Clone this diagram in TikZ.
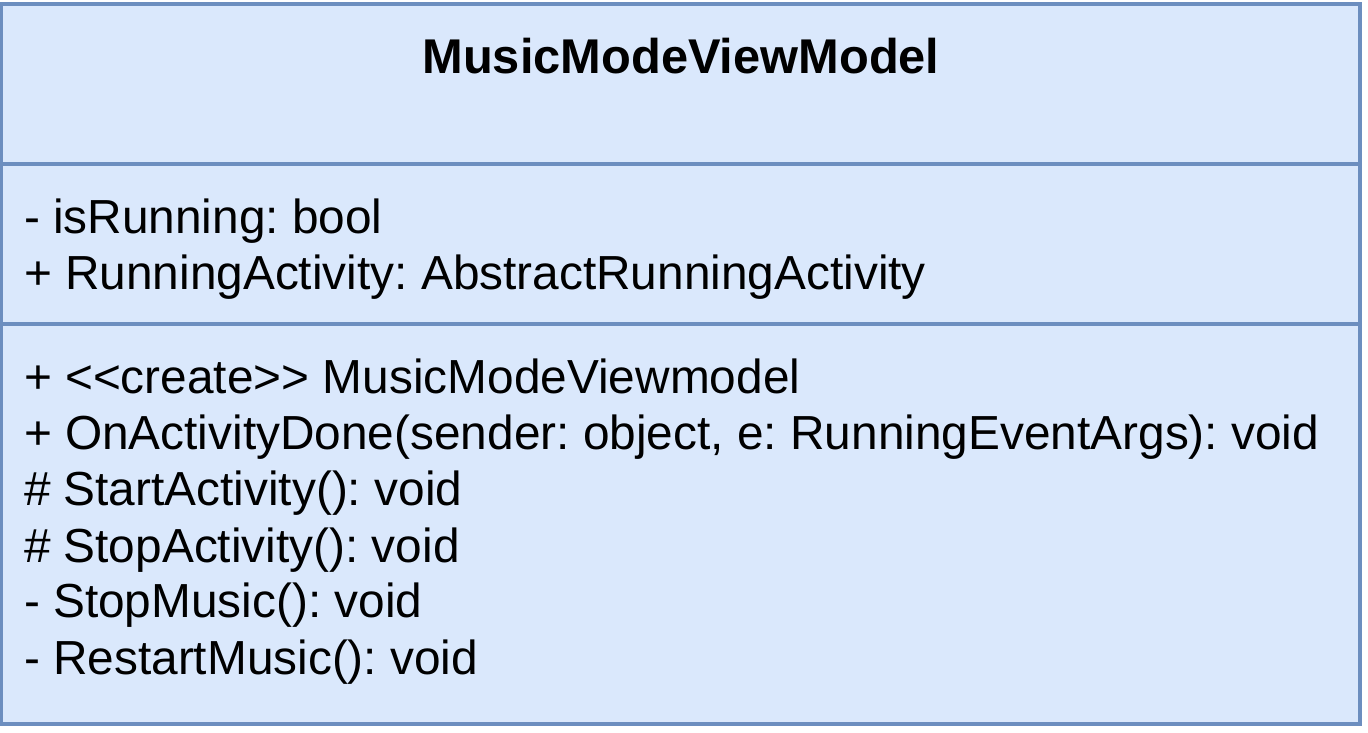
\documentclass[tikz,border=0pt]{standalone}
\usepackage{fontspec}
\setmainfont{Liberation Sans}
\definecolor{umlfill}{HTML}{DAE8FC}
\definecolor{umlline}{HTML}{6C8EBF}

\begin{document}
\frenchspacing
\begin{tikzpicture}[x=1pt,y=-1pt,line width=4pt]
      \tikzstyle{classbox}=[draw=umlline,fill=umlfill]
      \tikzstyle{member}=[anchor=base west,inner sep=0pt,font=\fontsize{47.8}{56}\selectfont]
      \useasboundingbox (0,0) rectangle (1368,732);
      \draw[classbox](1,4) rectangle (1360,724);
      \coordinate (sep1-l) at (1,164);
      \coordinate (sep1-r) at (1360,164);
      \coordinate (sep2-l) at (1,324);
      \coordinate (sep2-r) at (1360,324);
      \draw[umlline](sep1-l)--(sep1-r);
      \draw[umlline](sep2-l)--(sep2-r);
      \node[member,anchor=base,font=\fontsize{48.8}{56}\selectfont\bfseries](title) at (681,73){MusicModeViewModel};
      % attributes
      \node[member](is-running) at (22,233){- isRunning: bool};
      \node[member](running-act) at (22,289){+ RunningActivity: AbstractRunningActivity};
      % operations
      \node[member](create) at (22,393){+ {<}{<}create{>}{>} MusicModeViewmodel};
      \node[member](on-done) at (22,449){+ OnActivityDone(sender: object, e: RunningEventArgs): void};
      \node[member](start-act) at (22,505){\# StartActivity(): void};
      \node[member](stop-act) at (22,562){\# StopActivity(): void};
      \node[member](stop-music) at (22,617){- StopMusic(): void};
      \node[member](restart-music) at (22,674){- RestartMusic(): void};
\end{tikzpicture}
\end{document}
